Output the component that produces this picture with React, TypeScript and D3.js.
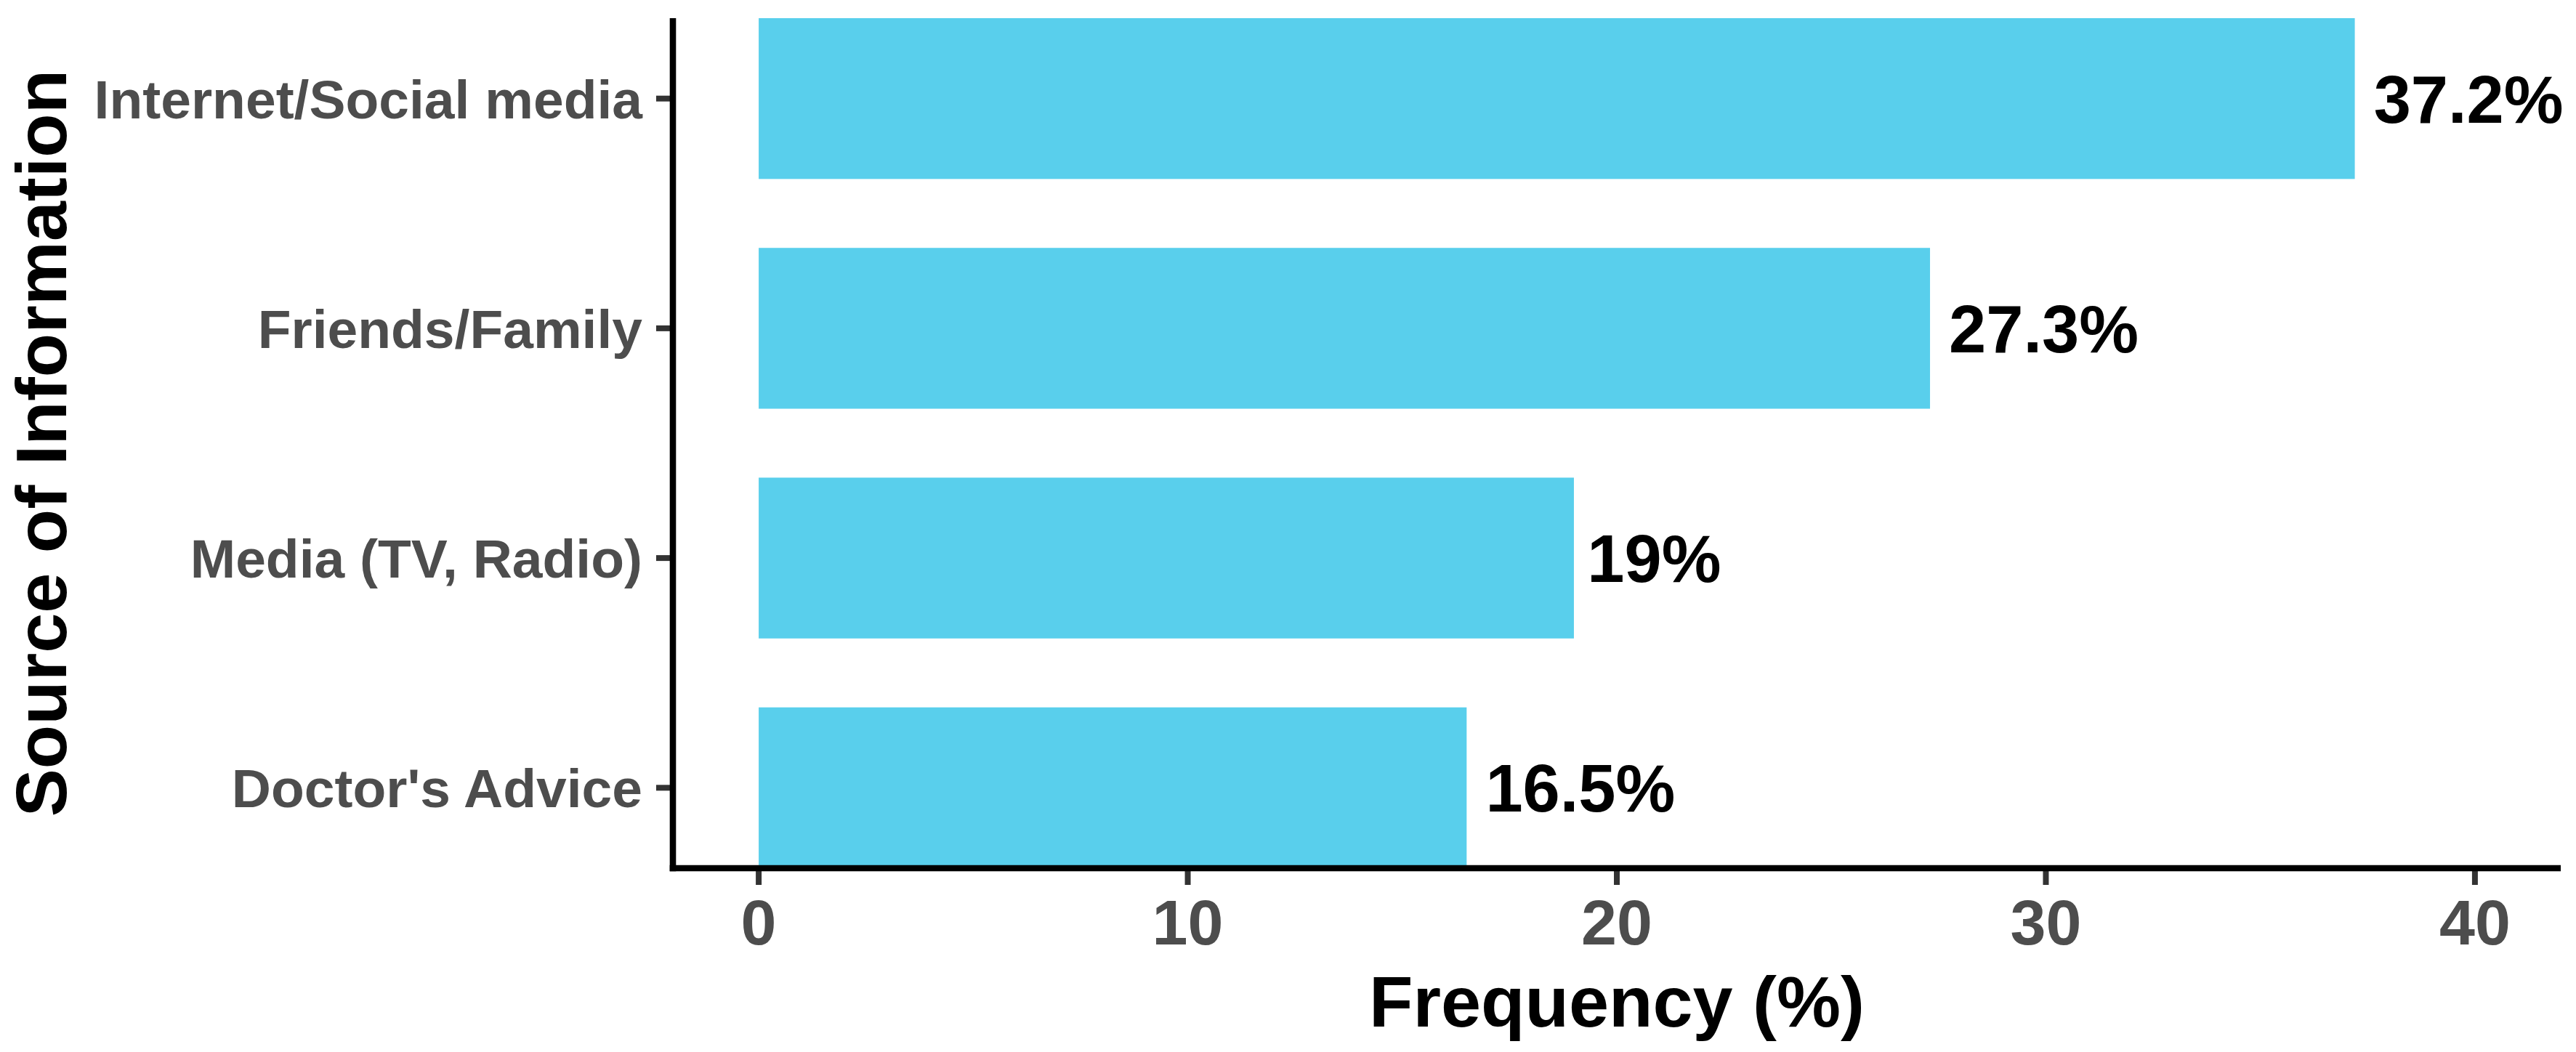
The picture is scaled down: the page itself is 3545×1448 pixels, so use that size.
import React, { useEffect, useRef } from "react";
import * as d3 from "d3";

const categories = ["Internet/Social media", "Friends/Family", "Media (TV, Radio)", "Doctor's Advice"];
const values = [37.2, 27.3, 19, 16.5];
const valueLabels = ["37.2%", "27.3%", "19%", "16.5%"];
const xTicks = [0, 10, 20, 30, 40];
const xTitle = "Frequency (%)";
const yTitle = "Source of Information";

const W = 3545;
const H = 1448;
const FONT = "'Liberation Sans', Arial, Helvetica, sans-serif";

export default function App() {
  const ref = useRef<SVGSVGElement | null>(null);

  useEffect(() => {
    const svg = d3.select(ref.current);
    svg.selectAll("*").remove();

    const left = 926, right = 3524, top = 25, bottom = 1195;
    const x = d3.scaleLinear().domain([-2, 42]).range([left, right]);
    const y = d3.scaleBand<string>().domain(categories).range([top, bottom]).paddingInner(0.3).paddingOuter(0);

    const data = categories.map((c, i) => ({ c, v: values[i], lab: valueLabels[i] }));

    // bars
    svg.append("g").selectAll("rect").data(data).join("rect")
      .attr("x", x(0))
      .attr("y", d => y(d.c)!)
      .attr("width", d => x(d.v) - x(0))
      .attr("height", y.bandwidth())
      .attr("fill", "#59CFEC");

    // value labels
    const labels = svg.append("g").selectAll("text").data(data).join("text")
      .attr("font-family", FONT)
      .attr("font-weight", "bold")
      .attr("font-size", 92)
      .attr("fill", "#000")
      .attr("y", d => y(d.c)! + y.bandwidth() / 2 + 0.358 * 92)
      .text(d => d.lab);
    labels.each(function (d: any) {
      const el = this as SVGTextElement;
      const w = el.getComputedTextLength();
      d3.select(el).attr("x", x(d.v) + 0.1 * w);
    });

    // y ticks
    const yg = svg.append("g");
    yg.selectAll("line").data(categories).join("line")
      .attr("x1", left - 23).attr("x2", left)
      .attr("y1", d => y(d)! + y.bandwidth() / 2)
      .attr("y2", d => y(d)! + y.bandwidth() / 2)
      .attr("stroke", "#333333").attr("stroke-width", 8);
    yg.selectAll("text").data(categories).join("text")
      .attr("font-family", FONT).attr("font-weight", "bold").attr("font-size", 75)
      .attr("fill", "#4D4D4D").attr("text-anchor", "end")
      .attr("x", left - 23 - 19)
      .attr("y", d => y(d)! + y.bandwidth() / 2 + 0.358 * 75)
      .text(d => d);

    // x ticks
    const xg = svg.append("g");
    xg.selectAll("line").data(xTicks).join("line")
      .attr("x1", d => x(d)).attr("x2", d => x(d))
      .attr("y1", bottom).attr("y2", bottom + 23)
      .attr("stroke", "#333333").attr("stroke-width", 8);
    xg.selectAll("text").data(xTicks).join("text")
      .attr("font-family", FONT).attr("font-weight", "bold").attr("font-size", 88)
      .attr("fill", "#4D4D4D").attr("text-anchor", "middle")
      .attr("x", d => x(d))
      .attr("y", 1300)
      .text(d => String(d));

    // axis lines
    svg.append("line").attr("x1", left).attr("x2", left).attr("y1", top).attr("y2", bottom + 4.3)
      .attr("stroke", "#000").attr("stroke-width", 8.6);
    svg.append("line").attr("x1", left - 4.3).attr("x2", right).attr("y1", bottom).attr("y2", bottom)
      .attr("stroke", "#000").attr("stroke-width", 8.6);

    // titles
    svg.append("text")
      .attr("font-family", FONT).attr("font-weight", "bold").attr("font-size", 99)
      .attr("fill", "#000").attr("text-anchor", "middle")
      .attr("x", (left + right) / 2).attr("y", 1413)
      .text(xTitle);
    svg.append("text")
      .attr("font-family", FONT).attr("font-weight", "bold").attr("font-size", 99)
      .attr("fill", "#000").attr("text-anchor", "middle")
      .attr("transform", `translate(91, ${(top + bottom) / 2}) rotate(-90)`)
      .text(yTitle);
  }, []);

  return (
    <svg ref={ref} width={W} height={H} style={{ position: "absolute", left: 0, top: 0, background: "#fff" }} />
  );
}
